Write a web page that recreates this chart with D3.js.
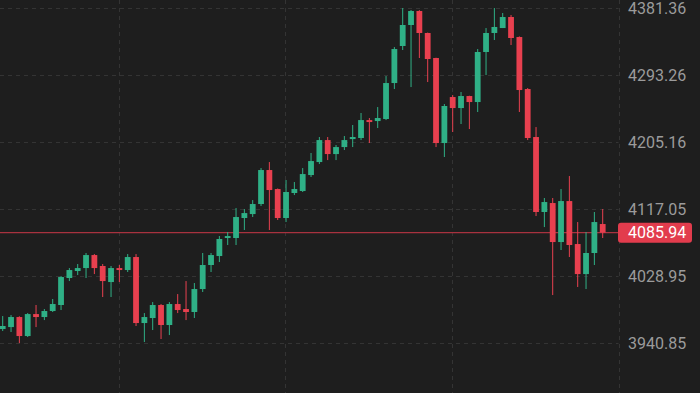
<!DOCTYPE html>
<html>
<head>
<meta charset="utf-8">
<script src="https://cdn.jsdelivr.net/npm/d3@7"></script>
<style>
  html, body { margin: 0; padding: 0; background: #1e1e1e; }
  svg { display: block; }
</style>
</head>
<body>
<div id="chart"></div>
<script>
var width = 700,
    height = 393;

// candle data, left to right
var opens  = [3959.2, 3961.8, 3975.0, 3950.0, 3978.9, 3975.0, 3982.9, 3990.8, 4026.3, 4035.5,
              4039.4, 4056.5, 4042.1, 4021.0, 4039.4, 4036.8, 4053.9, 3967.1, 3973.7, 3990.8,
              3964.5, 3992.1, 3985.5, 3981.6, 4011.8, 4043.4, 4055.2, 4078.9, 4078.9, 4105.2,
              4110.4, 4123.6, 4168.3, 4143.3, 4105.2, 4138.1, 4140.7, 4161.7, 4178.8, 4207.7,
              4189.3, 4198.5, 4209.0, 4210.4, 4234.0, 4232.7, 4235.4, 4282.7, 4331.4, 4359.0,
              4377.4, 4348.5, 4315.6, 4203.8, 4264.3, 4249.8, 4265.6, 4257.7, 4323.5, 4348.5,
              4355.0, 4369.5, 4343.2, 4274.8, 4211.7, 4113.1, 4124.9, 4073.6, 4127.5, 4071.0,
              4031.5, 4059.2, 4097.3];
var highs  = [3976.3, 3977.6, 3976.0, 3980.2, 3990.8, 3985.5, 3998.7, 4028.9, 4039.4, 4044.7,
              4059.2, 4057.8, 4044.7, 4042.1, 4043.4, 4057.8, 4057.8, 3980.2, 3994.7, 3992.1,
              3994.7, 4005.2, 4022.3, 4019.7, 4059.2, 4059.2, 4081.5, 4086.8, 4118.3, 4117.0,
              4128.8, 4170.9, 4178.8, 4144.0, 4155.2, 4152.5, 4170.9, 4190.7, 4211.7, 4211.7,
              4201.2, 4213.0, 4227.5, 4243.3, 4236.7, 4251.1, 4291.9, 4330.0, 4381.3, 4378.7,
              4378.5, 4349.0, 4316.0, 4255.1, 4266.9, 4270.9, 4266.0, 4327.4, 4355.0, 4381.3,
              4374.8, 4372.1, 4344.0, 4276.1, 4224.8, 4131.5, 4131.5, 4143.3, 4160.4, 4099.9,
              4086.8, 4113.1, 4117.0];
var lows   = [3956.6, 3955.3, 3940.8, 3948.7, 3961.8, 3971.0, 3981.6, 3984.2, 4022.3, 4030.2,
              4026.3, 4031.5, 4001.3, 4001.3, 4021.0, 4034.2, 3963.2, 3942.1, 3957.9, 3946.1,
              3951.3, 3980.2, 3971.0, 3973.7, 4007.9, 4034.2, 4047.3, 4069.7, 4069.7, 4089.4,
              4106.5, 4121.0, 4089.4, 4102.6, 4099.9, 4135.4, 4139.4, 4159.1, 4176.2, 4181.4,
              4181.4, 4194.6, 4198.5, 4207.7, 4203.8, 4223.5, 4234.0, 4274.8, 4326.1, 4277.4,
              4315.6, 4284.0, 4198.5, 4185.4, 4218.3, 4228.8, 4222.2, 4244.6, 4293.2, 4339.3,
              4355.0, 4332.7, 4244.6, 4207.7, 4107.8, 4093.3, 4003.9, 4063.1, 4053.9, 4014.5,
              4011.8, 4043.4, 4078.9];
var closes = [3963.2, 3975.0, 3950.0, 3978.9, 3975.0, 3982.9, 3992.1, 4027.6, 4036.8, 4039.4,
              4056.5, 4039.4, 4022.3, 4039.4, 4036.8, 4053.9, 3967.1, 3975.0, 3990.8, 3964.5,
              3992.1, 3984.2, 3981.6, 4011.8, 4043.4, 4056.5, 4077.6, 4081.5, 4106.5, 4111.7,
              4123.6, 4168.3, 4142.0, 4105.2, 4139.4, 4143.3, 4163.0, 4180.1, 4207.7, 4189.3,
              4198.5, 4207.7, 4211.7, 4234.0, 4231.4, 4236.7, 4282.7, 4327.4, 4359.0, 4377.4,
              4348.5, 4314.3, 4203.8, 4252.5, 4249.8, 4265.6, 4257.7, 4323.5, 4348.5, 4356.4,
              4369.5, 4341.9, 4273.5, 4210.4, 4113.1, 4126.2, 4073.6, 4127.5, 4069.7, 4031.5,
              4059.2, 4099.9, 4085.94];

var priceTicks = [3940.85, 4028.95, 4117.05, 4205.16, 4293.26, 4381.36];
var lastPrice = 4085.94;
// vertical grid positions, in candle index units
var timeGrid = [13.9, 33.9, 53.9, 73.9];

var upColor = "#2fb086",
    downColor = "#e8404f";

var candles = opens.map(function(o, i) {
  return { i: i, o: o, h: highs[i], l: lows[i], c: closes[i] };
});

var svg = d3.select("#chart")
  .append("svg")
  .attr("width", width)
  .attr("height", height);

svg.append("rect")
  .attr("width", width)
  .attr("height", height)
  .attr("fill", "#1e1e1e");

var x = d3.scaleLinear()
  .domain([0, opens.length - 1])
  .range([2.7, 602.7]);

var y = d3.scaleLinear()
  .domain([3940.85, 4381.36])
  .range([343, 8]);

var plotRight = x(timeGrid[timeGrid.length - 1]);
var bodyW = 5.8;

// grid
var gridG = svg.append("g");
gridG.selectAll("line.h")
  .data(priceTicks)
  .enter()
  .append("line")
  .attr("x1", 0)
  .attr("x2", plotRight)
  .attr("y1", function(d) { return Math.round(y(d)) + 0.5; })
  .attr("y2", function(d) { return Math.round(y(d)) + 0.5; })
  .attr("stroke", "#343434")
  .attr("stroke-dasharray", "4,4");

gridG.selectAll("line.v")
  .data(timeGrid)
  .enter()
  .append("line")
  .attr("x1", function(d) { return Math.round(x(d)) + 0.5; })
  .attr("x2", function(d) { return Math.round(x(d)) + 0.5; })
  .attr("y1", 0)
  .attr("y2", height)
  .attr("stroke", "#343434")
  .attr("stroke-dasharray", "4,4");

// last price line
svg.append("line")
  .attr("x1", 0)
  .attr("x2", plotRight)
  .attr("y1", y(lastPrice))
  .attr("y2", y(lastPrice))
  .attr("stroke", "#a8323f")
  .attr("stroke-width", 1.2);

// candles
var cG = svg.append("g");
var candle = cG.selectAll("g")
  .data(candles)
  .enter()
  .append("g");

candle.append("line")
  .attr("x1", function(d) { return x(d.i); })
  .attr("x2", function(d) { return x(d.i); })
  .attr("y1", function(d) { return y(d.h); })
  .attr("y2", function(d) { return y(d.l); })
  .attr("stroke", function(d) { return d.c >= d.o ? upColor : downColor; })
  .attr("stroke-width", 1);

candle.append("rect")
  .attr("x", function(d) { return x(d.i) - bodyW / 2; })
  .attr("width", bodyW)
  .attr("y", function(d) { return y(Math.max(d.o, d.c)); })
  .attr("height", function(d) { return Math.max(1.5, Math.abs(y(d.o) - y(d.c))); })
  .attr("fill", function(d) { return d.c >= d.o ? upColor : downColor; });

// right price axis
var yAxis = d3.axisRight(y)
  .tickValues(priceTicks)
  .tickSize(0)
  .tickPadding(0)
  .tickFormat(d3.format(".2f"));

var axisG = svg.append("g")
  .attr("transform", "translate(628,0)")
  .call(yAxis);
axisG.select(".domain").remove();
axisG.selectAll("text")
  .attr("fill", "#9b9b9b")
  .attr("font-family", "Roboto, sans-serif")
  .attr("font-size", "16px");

// last price label
var tagG = svg.append("g")
  .attr("transform", "translate(618," + y(lastPrice) + ")");
tagG.append("rect")
  .attr("x", 0)
  .attr("y", -10)
  .attr("width", 74)
  .attr("height", 20)
  .attr("rx", 3)
  .attr("fill", "#e23c4d");
tagG.append("text")
  .attr("x", 10)
  .attr("dy", "0.35em")
  .attr("fill", "#ffffff")
  .attr("font-family", "Roboto, sans-serif")
  .attr("font-size", "16px")
  .text(d3.format(".2f")(lastPrice));
</script>
</body>
</html>
